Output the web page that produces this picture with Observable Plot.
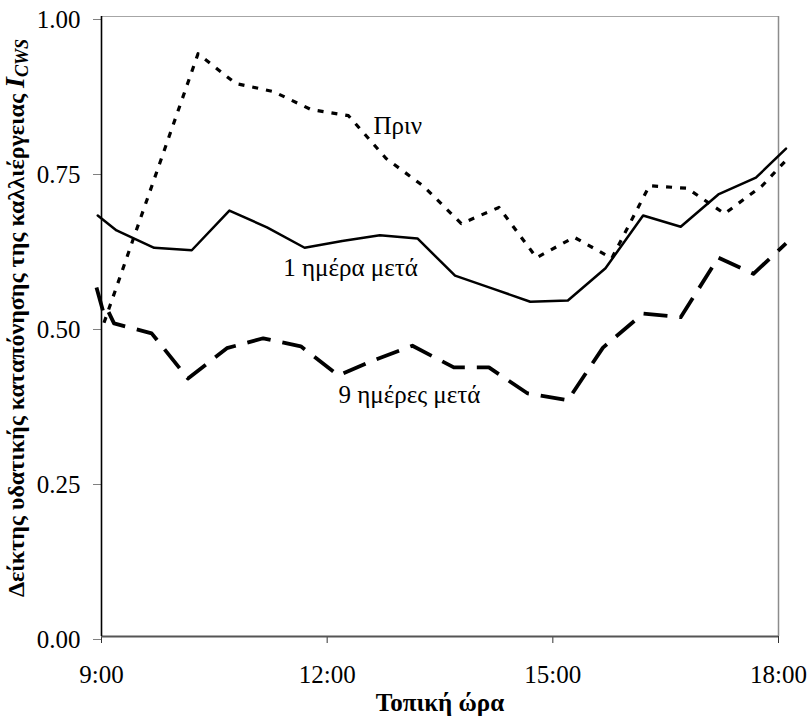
<!DOCTYPE html>
<html>
<head>
<meta charset="utf-8">
<script src="https://cdn.jsdelivr.net/npm/d3@7"></script>
<script src="https://cdn.jsdelivr.net/npm/@observablehq/plot@0.6"></script>
<style>
  html, body { margin: 0; padding: 0; background: #fff; }
  #chart svg { display: block; }
  #chart svg text { font-family: "Liberation Serif", "Times New Roman", serif; }
</style>
</head>
<body>
<div id="chart"></div>
<script>
// ---- Data ----
// Series "Πριν" (before), dotted
const beforeTimes  = ["9:02","10:17","10:47","11:17","11:47","12:17","12:47","13:17","13:47","14:17","14:47","15:17","15:47","16:17","16:47","17:17","17:47","18:06"];
const beforeValues = [0.506, 0.940, 0.892, 0.879, 0.850, 0.840, 0.771, 0.726, 0.666, 0.692, 0.611, 0.644, 0.610, 0.727, 0.723, 0.682, 0.727, 0.768];

// Series "1 ημέρα μετά" (1 day after), solid
const day1Times  = ["8:57","9:12","9:42","10:12","10:42","11:12","11:42","12:12","12:42","13:12","13:42","14:12","14:42","15:12","15:42","16:12","16:42","17:12","17:42","18:06"];
const day1Values = [0.679, 0.655, 0.627, 0.623, 0.687, 0.660, 0.627, 0.638, 0.647, 0.642, 0.582, 0.561, 0.540, 0.542, 0.594, 0.679, 0.661, 0.713, 0.740, 0.787];

// Series "9 ημέρες μετά" (9 days after), long dashes
const day9Times  = ["8:56","9:02","9:05","9:10","9:40","10:09","10:40","11:09","11:39","12:09","12:39","13:08","13:41","14:09","14:40","15:12","15:40","16:12","16:42","17:12","17:40","18:06"];
const day9Values = [0.563, 0.519, 0.526, 0.505, 0.489, 0.416, 0.465, 0.481, 0.468, 0.421, 0.447, 0.469, 0.434, 0.434, 0.392, 0.381, 0.466, 0.521, 0.515, 0.611, 0.585, 0.634];

// Axis ticks
const xTicks = [9, 12, 15, 18];
const yTicks = [0, 0.25, 0.5, 0.75, 1];

// Series label annotations (in data coordinates)
const labelTexts  = ["Πριν", "1 ημέρα μετά", "9 ημέρες μετά"];
const labelTimes  = ["12:37", "11:25", "12:09"];
const labelValues = [0.823, 0.595, 0.390];

// ---- Build tables ----
const toHours = s => { const [h, m] = s.split(":").map(Number); return h + m / 60; };
const mk = (times, values) => times.map((t, i) => ({x: toHours(t), y: values[i]}));
const before = mk(beforeTimes, beforeValues);
const day1 = mk(day1Times, day1Values);
const day9 = mk(day9Times, day9Values);
const labels = labelTexts.map((t, i) => ({text: t, x: toHours(labelTimes[i]), y: labelValues[i]}));

const FONT = "Liberation Serif, Times New Roman, serif";

const chart = Plot.plot({
  width: 812,
  height: 718,
  marginLeft: 101,
  marginRight: 34,
  marginTop: 16,
  marginBottom: 82,
  style: {fontFamily: FONT, fontSize: "25px", color: "#000", background: "#fff", overflow: "visible"},
  x: {domain: [9, 18], label: null},
  y: {domain: [0, 1], label: null},
  marks: [
    // frame (top/right borders in light grey)
    Plot.ruleY([1], {stroke: "#a6a6a6", strokeWidth: 1.2}),
    Plot.ruleX([18], {stroke: "#8c8c8c", strokeWidth: 1.5}),
    Plot.axisY({ticks: yTicks, tickFormat: d => d.toFixed(2), tickSize: 8, tickPadding: 13, stroke: "#808080", dy: 3, fontSize: 25}),
    Plot.axisX({ticks: xTicks, tickFormat: d => `${d}:00`, tickSize: 7, tickPadding: 22, stroke: "#333", fontSize: 25}),
    Plot.ruleY([0], {stroke: "#555", strokeWidth: 2}),
    Plot.ruleX([9], {stroke: "#000", strokeWidth: 1.6}),
    // series
    Plot.line(before, {x: "x", y: "y", stroke: "#000", strokeWidth: 3.2, strokeDasharray: "6,8", strokeLinecap: "butt"}),
    Plot.line(day9, {x: "x", y: "y", stroke: "#000", strokeWidth: 3.8, strokeDasharray: "24,12", strokeLinecap: "butt"}),
    Plot.line(day1, {x: "x", y: "y", stroke: "#000", strokeWidth: 2.5}),
    Plot.text(labels, {x: "x", y: "y", text: "text", textAnchor: "start", fontSize: 25, fill: "#000"})
  ]
});

document.getElementById("chart").appendChild(chart);

// Axis titles (with rich formatting for I_CWS)
const svg = d3.select(chart);
const yl = svg.append("text")
  .attr("transform", "translate(24,318) rotate(-90)")
  .attr("text-anchor", "middle")
  .attr("font-weight", "bold")
  .attr("font-size", 24)
  .attr("fill", "#000");
yl.append("tspan").text("Δείκτης υδατικής καταπόνησης της καλλιέργειας ");
yl.append("tspan").attr("font-style", "italic").attr("font-size", 28).text("I");
yl.append("tspan").attr("font-style", "italic").attr("font-size", 18).attr("dy", 4).text("CWS");

svg.append("text")
  .attr("x", 440)
  .attr("y", 711)
  .attr("text-anchor", "middle")
  .attr("font-weight", "bold")
  .attr("font-size", 25)
  .attr("fill", "#000")
  .text("Τοπική ώρα");

svg.selectAll("text").attr("font-family", FONT).style("font-family", FONT);
</script>
</body>
</html>
